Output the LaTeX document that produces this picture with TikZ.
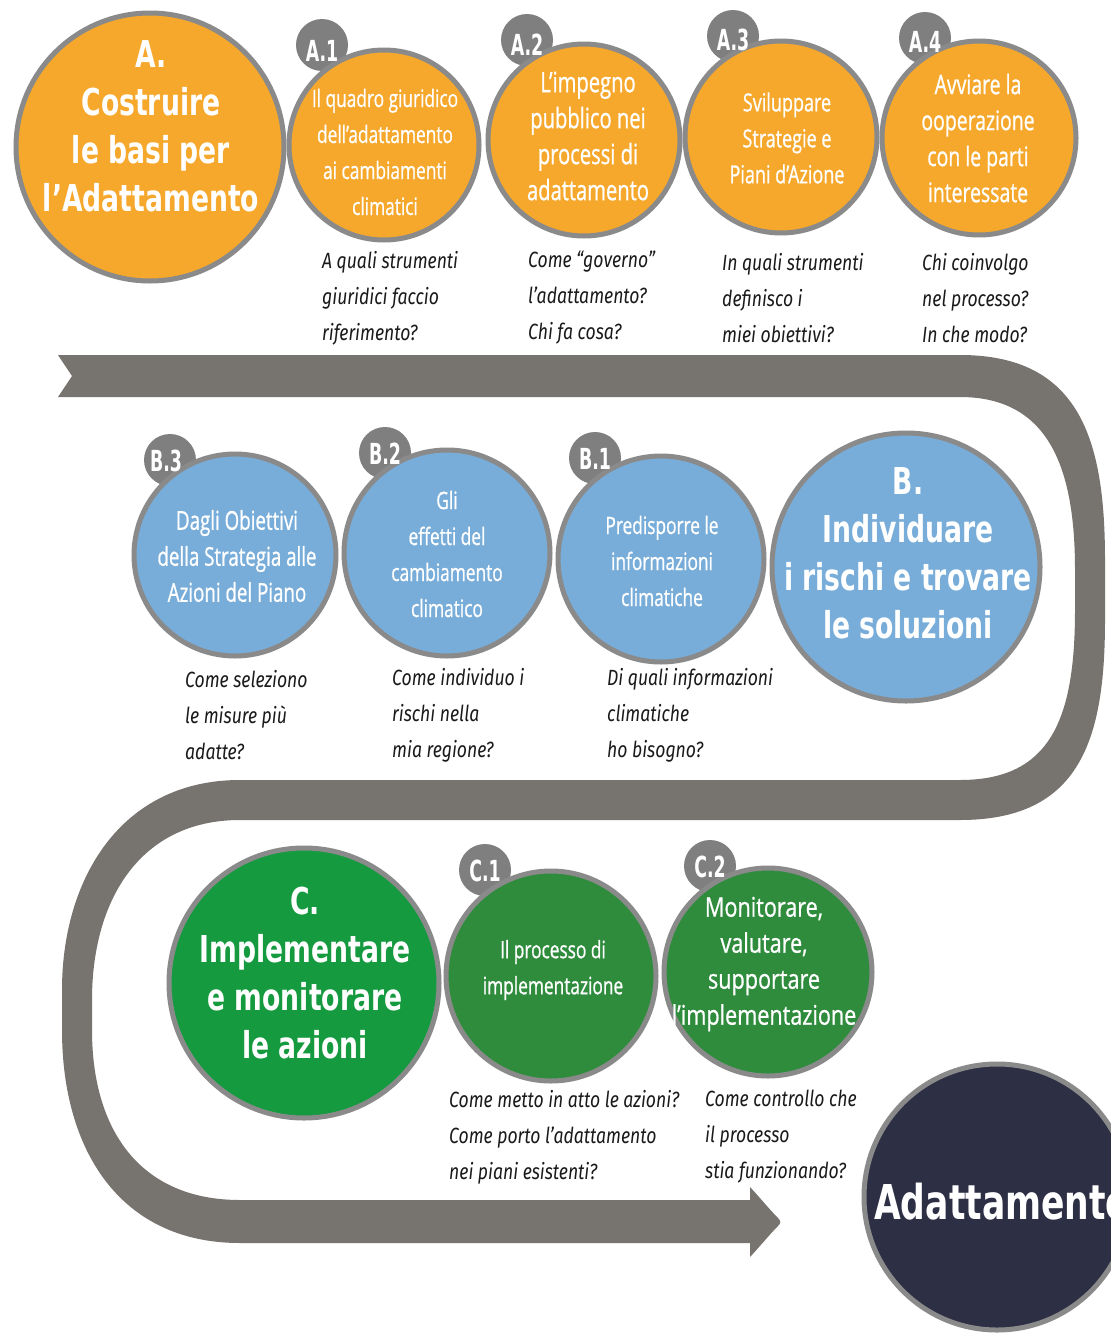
\documentclass[tikz,border=0pt]{standalone}
\usepackage{fontspec}
\newfontfamily\circfont{Open Sans}[FakeStretch=0.72,FakeBold=0.8]
\newfontfamily\circfontw{Open Sans}[FakeStretch=0.8,FakeBold=0.8]
\newfontfamily\titlefont{DejaVu Sans}[FakeStretch=0.72]
\newfontfamily\badgefont{DejaVu Sans}[FakeStretch=0.6]
\newfontfamily\qfont{Fira Sans}[FakeStretch=0.8]
\definecolor{ribbon}{HTML}{77736F}
\definecolor{ringgray}{HTML}{8A8A8A}
\definecolor{badgegray}{HTML}{7F7F7F}
\definecolor{aorange}{HTML}{F6A82C}
\definecolor{bblue}{HTML}{78ADD9}
\definecolor{cgreen}{HTML}{169A40}
\definecolor{cgreensm}{HTML}{2F8C3D}
\definecolor{navy}{HTML}{2D2F45}
\definecolor{qblack}{HTML}{1A1A1A}
\tikzset{
  ring/.style={circle, draw=ringgray, line width=5pt, inner sep=0pt, minimum size=#1},
  badge/.style={circle, fill=badgegray, minimum size=52pt, inner sep=0pt},
  badgetext/.style={text=white, inner sep=0pt, font=\badgefont\bfseries\fontsize{29}{29}\selectfont},
  ctext/.style={text=white, align=center, inner sep=0pt, font=\circfont\fontsize{#1}{36}\selectfont},
  ctext/.default=24,
  ctextw/.style={text=white, align=center, inner sep=0pt, font=\circfontw\fontsize{#1}{36}\selectfont},
  ttext/.style={text=white, align=center, inner sep=0pt, font=\titlefont\bfseries\fontsize{37}{48}\selectfont},
  qtext/.style={text=qblack, align=left, anchor=west, inner sep=0pt, font=\qfont\itshape\fontsize{22}{36}\selectfont},
}
\begin{document}
\begin{tikzpicture}[x=1pt,y=-1pt]
\clip (0,0) rectangle (1111,1336);
\fill[white] (0,0) rectangle (1111,1336);
% ribbon
\fill[ribbon] (58,355) -- (960,355)
  .. controls (1080,355) and (1105,440) .. (1105,560) -- (1105,620)
  .. controls (1105,740) and (1080,820) .. (960,820) -- (240,820)
  .. controls (140,820) and (92,900) .. (92,1000) -- (92,1030)
  .. controls (92,1130) and (140,1200) .. (240,1200) -- (750,1200) -- (750,1187)
  .. controls (762,1200) and (770,1210) .. (778,1218)
  .. controls (781,1221) and (781,1223) .. (778,1226)
  .. controls (770,1234) and (762,1244) .. (750,1257) -- (750,1243) -- (240,1243)
  .. controls (120,1243) and (62,1150) .. (62,1030) -- (62,990)
  .. controls (62,880) and (120,780) .. (240,780) -- (960,780)
  .. controls (1050,780) and (1075,720) .. (1075,610) -- (1075,570)
  .. controls (1075,470) and (1050,397) .. (960,397) -- (58,397) -- (72,376) -- cycle;

% badges (behind circles)
\node[badge] (bA1) at (322,45) {};
\node[badge] (bA2) at (527,40) {};
\node[badge] (bA3) at (733,36) {};
\node[badge] (bA4) at (925,38) {};
\node[badge] (bB3) at (170,460) {};
\node[badge] (bB2) at (385,453) {};
\node[badge] (bB1) at (595,458) {};
\node[badge] (bC1) at (485,870) {};
\node[badge] (bC2) at (710,866) {};

% circles
\node[ring=268pt, fill=aorange] (cA) at (150,147) {};
\node[ring=190pt, fill=aorange] (cA1) at (384,145) {};
\node[ring=192pt, fill=aorange] (cA2) at (584,140) {};
\node[ring=192pt, fill=aorange] (cA3) at (781,137) {};
\node[ring=194pt, fill=aorange] (cA4) at (979,138) {};
\node[ring=202pt, fill=bblue] (cB3) at (235,555) {};
\node[ring=206pt, fill=bblue] (cB2) at (447,553) {};
\node[ring=206pt, fill=bblue] (cB1) at (661,559) {};
\node[ring=268pt, fill=bblue] (cB) at (906,567) {};
\node[ring=270pt, fill=cgreen] (cC) at (304,983) {};
\node[ring=210pt, fill=cgreensm] (cC1) at (551,976) {};
\node[ring=208pt, fill=cgreensm] (cC2) at (768,972) {};
\node[ring=266pt, fill=navy] (cD) at (997,1197) {};

% badge labels
\node[badgetext] (lA1) at ([yshift=-6pt]bA1.center) {A.1};
\node[badgetext] (lA2) at ([yshift=-5pt]bA2.center) {A.2};
\node[badgetext] (lA3) at ([yshift=-4pt]bA3.center) {A.3};
\node[badgetext] (lA4) at ([yshift=-4pt]bA4.center) {A.4};
\node[badgetext] (lB3) at ([yshift=-1pt,xshift=-4pt]bB3.center) {B.3};
\node[badgetext] (lB2) at ([yshift=-1pt]bB2.center) {B.2};
\node[badgetext] (lB1) at ([yshift=-1pt]bB1.center) {B.1};
\node[badgetext] (lC1) at ([yshift=-1pt]bC1.center) {C.1};
\node[badgetext] (lC2) at ([yshift=-1pt]bC2.center) {C.2};

% circle texts
\node[ttext] (tA) at (151,126) {A.\\Costruire\\le basi per\\l’Adattamento};
\node[ctext] (tA1) at (385,152) {Il quadro giuridico\\dell’adattamento\\ai cambiamenti\\climatici};
\node[ctext=28] (tA2) at (588,136) {L’impegno\\pubblico nei\\processi di\\adattamento};
\node[ctext=25] (tA3) at (787,138) {Sviluppare\\Strategie e\\Piani d’Azione};
\node[ctext=27] (tA4) at (978,138) {Avviare la\\ooperazione\\con le parti\\interessate};
\node[ctext=26] (tB3) at (237,556) {Dagli Obiettivi\\della Strategia alle\\Azioni del Piano};
\node[ctext] (tB2) at (447,554) {Gli\\effetti del\\cambiamento\\climatico};
\node[ctext] (tB1) at (662,561) {Predisporre le\\informazioni\\climatiche};
\node[ttext] (tB) at (908,553) {B.\\Individuare\\i rischi e trovare\\le soluzioni};
\node[ttext] (tC) at (305,973) {C.\\Implementare\\e monitorare\\le azioni};
\node[ctext] (tC1) at (553,970) {Il processo di\\implementazione};
\node[ctextw=27] (tC2) at (764,964) {Monitorare,\\valutare,\\supportare\\l’implementazione};
\node[text=white, anchor=west, inner sep=0pt, font=\titlefont\bfseries\fontsize{48}{48}\selectfont] (tD) at (874,1202) {Adattamento};

% questions
\node[qtext] (qA1) at (322,298) {A quali strumenti\\giuridici faccio\\riferimento?};
\node[qtext] (qA2) at (528,298) {Come “governo”\\l’adattamento?\\Chi fa cosa?};
\node[qtext] (qA3) at (722,298) {In quali strumenti\\definisco i\\miei obiettivi?};
\node[qtext] (qA4) at (922,298) {Chi coinvolgo\\nel processo?\\In che modo?};
\node[qtext] (qB3) at (185,715) {Come seleziono\\le misure più\\adatte?};
\node[qtext] (qB2) at (392,715) {Come individuo i\\rischi nella\\mia regione?};
\node[qtext] (qB1) at (607,715) {Di quali informazioni\\climatiche\\ho bisogno?};
\node[qtext] (qC1) at (449,1137) {Come metto in atto le azioni?\\Come porto l’adattamento\\nei piani esistenti?};
\node[qtext] (qC2) at (705,1137) {Come controllo che\\il processo\\stia funzionando?};
\end{tikzpicture}
\end{document}
